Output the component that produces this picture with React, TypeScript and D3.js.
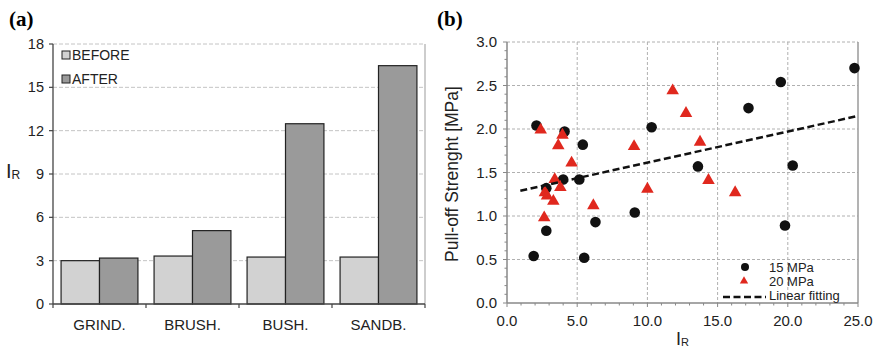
import React from "react";
import * as d3 from "d3";

// panel (a) data
const categories = ["GRIND.", "BRUSH.", "BUSH.", "SANDB."];
const beforeVals = [3.0, 3.32, 3.25, 3.25];
const afterVals = [3.18, 5.08, 12.48, 16.5];
const ticksA = [0, 3, 6, 9, 12, 15, 18];

// panel (b) data
const mpa15X = [1.9, 2.1, 2.8, 2.8, 4.1, 4.0, 5.4, 5.15, 5.5, 6.3, 9.1, 10.3, 13.6, 17.2, 19.5, 19.8, 20.35, 24.75];
const mpa15Y = [0.54, 2.04, 1.32, 0.83, 1.97, 1.42, 1.82, 1.42, 0.52, 0.93, 1.04, 2.02, 1.57, 2.24, 2.54, 0.89, 1.58, 2.7];
const mpa20X = [2.4, 2.65, 2.7, 2.85, 3.3, 3.4, 3.65, 3.8, 3.95, 4.6, 6.15, 9.05, 10.0, 11.8, 12.75, 13.75, 14.35, 16.25];
const mpa20Y = [1.99, 0.98, 1.27, 1.23, 1.17, 1.42, 1.81, 1.33, 1.93, 1.61, 1.12, 1.8, 1.31, 2.44, 2.18, 1.85, 1.41, 1.27];
const fitX = [0.95, 25.0];
const fitY = [1.29, 2.15];
const ticksBX = [0, 5, 10, 15, 20, 25];
const ticksBY = [0, 0.5, 1.0, 1.5, 2.0, 2.5, 3.0];

const sans = "'Liberation Sans', Arial, Helvetica, sans-serif";
const serif = "'Liberation Serif', 'Times New Roman', serif";

function PanelA() {
  const L = 53, R = 425, T = 44, B = 304;
  const x = d3.scaleBand<string>().domain(categories).range([L, R]).padding(0);
  const inner = d3.scaleBand<string>().domain(["before", "after"]).range([0, x.bandwidth()]).paddingInner(0).paddingOuter(0.21);
  const y = d3.scaleLinear().domain([0, 18]).range([B, T]);
  const bounds = d3.range(categories.length + 1).map((i) => L + i * x.step());

  return (
    <g>
      <text x={9} y={26} fontFamily={serif} fontWeight="bold" fontSize={21}>(a)</text>
      {/* grid */}
      {ticksA.filter((t) => t > 0).map((t) => (
        <line key={t} x1={L} x2={R} y1={y(t)} y2={y(t)} stroke="#c4c4c4" strokeDasharray="4,2" strokeWidth={1} />
      ))}
      <line x1={R} x2={R} y1={T} y2={B} stroke="#bdbdbd" strokeWidth={1.5} />
      {/* bars */}
      {categories.map((c, i) => (
        <g key={c}>
          <rect x={x(c)! + inner("before")!} y={y(beforeVals[i])} width={inner.bandwidth()} height={B - y(beforeVals[i])} fill="#d2d2d2" stroke="#222" strokeWidth={1.2} />
          <rect x={x(c)! + inner("after")!} y={y(afterVals[i])} width={inner.bandwidth()} height={B - y(afterVals[i])} fill="#9a9a9a" stroke="#222" strokeWidth={1.2} />
        </g>
      ))}
      {/* axes */}
      <line x1={L} x2={L} y1={T} y2={B} stroke="#444" strokeWidth={1.3} />
      <line x1={L} x2={R} y1={B} y2={B} stroke="#444" strokeWidth={1.3} />
      {ticksA.map((t) => (
        <g key={t}>
          <line x1={L - 4} x2={L} y1={y(t)} y2={y(t)} stroke="#444" strokeWidth={1.2} />
          <text x={44} y={y(t) + 5} textAnchor="end" fontFamily={sans} fontSize={14.5} fill="#222">{t}</text>
        </g>
      ))}
      {bounds.map((b, i) => (
        <line key={i} x1={b} x2={b} y1={B} y2={B + 4} stroke="#444" strokeWidth={1.2} />
      ))}
      {categories.map((c) => (
        <text key={c} x={x(c)! + x.bandwidth() / 2} y={330} textAnchor="middle" fontFamily={sans} fontSize={15} fill="#222">{c}</text>
      ))}
      <text x={6} y={178} fontFamily={sans} fontSize={20} fill="#222">I<tspan fontSize={12} dy={1}>R</tspan></text>
      {/* legend */}
      <rect x={62} y={51} width={8} height={8} fill="#d2d2d2" stroke="#222" strokeWidth={1} />
      <text x={72} y={60} fontFamily={sans} fontSize={14} fill="#222">BEFORE</text>
      <rect x={62} y={75} width={8} height={8} fill="#9a9a9a" stroke="#222" strokeWidth={1} />
      <text x={72} y={84} fontFamily={sans} fontSize={14} fill="#222">AFTER</text>
    </g>
  );
}

function PanelB() {
  const L = 507, R = 858, T = 42, B = 303;
  const x = d3.scaleLinear().domain([0, 25]).range([L, R]);
  const y = d3.scaleLinear().domain([0, 3]).range([B, T]);
  const tri = d3.symbol().type(d3.symbolTriangle).size(68)()!;
  const triSmall = d3.symbol().type(d3.symbolTriangle).size(30)()!;
  const minorX = d3.range(0, 26, 1);
  const minorY = d3.range(0, 31).map((i) => i / 10);
  const fitLine = d3.line<number>().x((d) => x(fitX[d])).y((d) => y(fitY[d]));

  return (
    <g>
      <text x={437} y={26} fontFamily={serif} fontWeight="bold" fontSize={21}>(b)</text>
      {/* grid */}
      {ticksBX.filter((t) => t > 0 && t < 25).map((t) => (
        <line key={"gx" + t} x1={x(t)} x2={x(t)} y1={T} y2={B} stroke="#b0b0b0" strokeDasharray="3,2" />
      ))}
      {ticksBY.filter((t) => t > 0).map((t) => (
        <line key={"gy" + t} x1={L} x2={R} y1={y(t)} y2={y(t)} stroke="#b0b0b0" strokeDasharray="3,2" />
      ))}
      <line x1={R} x2={R} y1={T} y2={B} stroke="#9a9a9a" strokeWidth={1.5} />
      {/* axes */}
      <line x1={L} x2={L} y1={T} y2={B} stroke="#888" strokeWidth={1.5} />
      <line x1={L} x2={R} y1={B} y2={B} stroke="#888" strokeWidth={1.5} />
      {minorY.map((t, i) => (
        <line key={"my" + i} x1={L - (i % 5 === 0 ? 4 : 2.5)} x2={L} y1={y(t)} y2={y(t)} stroke="#888" strokeWidth={1} />
      ))}
      {minorX.map((t) => (
        <line key={"mx" + t} x1={x(t)} x2={x(t)} y1={B} y2={B + (t % 5 === 0 ? 4 : 2.5)} stroke="#888" strokeWidth={1} />
      ))}
      {ticksBY.map((t) => (
        <text key={"ty" + t} x={497} y={y(t) + 5} textAnchor="end" fontFamily={sans} fontSize={15} fill="#222">{t.toFixed(1)}</text>
      ))}
      {ticksBX.map((t) => (
        <text key={"tx" + t} x={x(t)} y={326} textAnchor="middle" fontFamily={sans} fontSize={15} fill="#222">{t.toFixed(1)}</text>
      ))}
      <text transform={`translate(458,174) rotate(-90)`} textAnchor="middle" fontFamily={sans} fontSize={17.5} fill="#222">Pull-off Strenght [MPa]</text>
      <text x={676} y={345} fontFamily={sans} fontSize={18} fill="#222">I<tspan fontSize={11} dy={1}>R</tspan></text>
      {/* points */}
      {mpa15X.map((v, i) => (
        <circle key={"c" + i} cx={x(v)} cy={y(mpa15Y[i])} r={5.3} fill="#111" />
      ))}
      {mpa20X.map((v, i) => (
        <path key={"t" + i} d={tri} transform={`translate(${x(v)},${y(mpa20Y[i])})`} fill="#e0281e" />
      ))}
      <path d={fitLine([0, 1])!} fill="none" stroke="#111" strokeWidth={2.5} strokeDasharray="7,3.5" />
      {/* legend */}
      <circle cx={745} cy={267} r={4} fill="#111" />
      <text x={769} y={272} fontFamily={sans} fontSize={13} fill="#222">15 MPa</text>
      <path d={triSmall} transform="translate(744,281)" fill="#e0281e" />
      <text x={769} y={286} fontFamily={sans} fontSize={13} fill="#222">20 MPa</text>
      <line x1={723} x2={766} y1={297} y2={297} stroke="#111" strokeWidth={2.5} strokeDasharray="7,3.5" />
      <text x={769} y={300} fontFamily={sans} fontSize={13} fill="#222">Linear fitting</text>
    </g>
  );
}

export default function App() {
  return (
    <svg width={875} height={349} style={{ position: "absolute", left: 0, top: 0, background: "#fff" }}>
      <rect width={875} height={349} fill="#fff" />
      <PanelA />
      <PanelB />
    </svg>
  );
}
